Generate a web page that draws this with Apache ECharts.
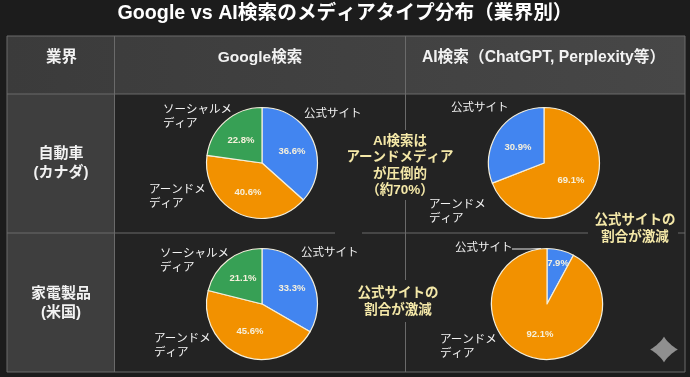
<!DOCTYPE html>
<html>
<head>
<meta charset="utf-8">
<style>html,body{margin:0;padding:0;background:#1c1c1c}#chart{width:690px;height:377px}</style>
<script src="https://cdn.jsdelivr.net/npm/echarts@6/dist/echarts.min.js"></script>
</head>
<body>
<div id="chart"></div>
<script>
// データ
var googleAutoNames = ['公式サイト', 'アーンドメ\nディア', 'ソーシャルメ\nディア'];
var googleAutoValues = [36.6, 40.6, 22.8];
var aiAutoNames = ['アーンドメ\nディア', '公式サイト'];
var aiAutoValues = [69.1, 30.9];
var googleHomeNames = ['公式サイト', 'アーンドメ\nディア', 'ソーシャルメ\nディア'];
var googleHomeValues = [33.3, 45.6, 21.1];
var aiHomeNames = ['公式サイト', 'アーンドメ\nディア'];
var aiHomeValues = [7.9, 92.1];
var headers = ['業界', 'Google検索', 'AI検索（ChatGPT, Perplexity等）'];
var rowLabels = ['自動車\n(カナダ)', '家電製品\n(米国)'];

var FONT = '"Liberation Sans","Noto Sans CJK JP",sans-serif';
var BLUE = '#4285f0', ORANGE = '#f29100', GREEN = '#37a055';
var sliceColors = {'公式サイト': BLUE, 'アーンドメ\nディア': ORANGE, 'ソーシャルメ\nディア': GREEN};

function toData(names, values){
    var arr = [];
    for (var i = 0; i < names.length; i++) {
        arr.push({name: names[i], value: values[i], itemStyle: {color: sliceColors[names[i]]}});
    }
    return arr;
}

// 円グラフの配置と名前ラベルの位置
var pies = [
    {names: googleAutoNames, values: googleAutoValues, center: [262, 163],
     pos: [[304, 114], [149, 197], [163, 117]], pct: [[292, 151], [248, 192], [241, 140]]},
    {names: aiAutoNames, values: aiAutoValues, center: [544, 163],
     pos: [[429, 212], [451, 108]], pct: [[571, 180], [518, 147]]},
    {names: googleHomeNames, values: googleHomeValues, center: [262, 304],
     pos: [[301, 253], [154, 346], [160, 261]], pct: [[292, 288], [250, 331], [243, 278]]},
    {names: aiHomeNames, values: aiHomeValues, center: [547, 304],
     pos: [[455, 248], [440, 347]], pct: [[558, 263], [540, 334]]}
];

var series = [];
pies.forEach(function(p){
    // スライスと％ラベル
    series.push({
        type: 'pie', radius: 55.5, center: p.center, startAngle: 90, silent: true,
        animation: false,
        data: toData(p.names, p.values),
        itemStyle: {borderColor: '#f4efdc', borderWidth: 1.2},
        label: {show: true, position: 'inside', formatter: '{c}%', color: '#f6f0dc',
                fontFamily: FONT, fontSize: 9.5, fontWeight: 'bold'},
        labelLine: {show: false},
        labelLayout: function(params){
            var q = p.pct[params.dataIndex];
            return {x: q[0], y: q[1], align: 'center', verticalAlign: 'middle'};
        }
    });
    // 名前ラベル
    series.push({
        type: 'pie', radius: 55.5, center: p.center, startAngle: 90, silent: true,
        animation: false,
        data: toData(p.names, p.values).map(function(d){
            d.itemStyle = {color: 'rgba(0,0,0,0)', borderWidth: 0};
            return d;
        }),
        label: {show: true, position: 'outside', color: '#f2f2f2', fontFamily: FONT,
                fontSize: 11.5, lineHeight: 14, formatter: '{b}', overflow: 'none', bleedMargin: 0, width: 90},
        labelLine: {show: false},
        labelLayout: function(params){
            var q = p.pos[params.dataIndex];
            return {x: q[0], y: q[1], align: 'left', verticalAlign: 'middle'};
        }
    });
});

var lineColor = '#6a6a6a';
var headGrad = {type: 'linear', x: 0, y: 0, x2: 1, y2: 0, colorStops: [{offset: 0, color: '#3b3b3b'}, {offset: 1, color: '#474747'}]};

function rect(x, y, w, h, fill){
    return {type: 'rect', z: -2, shape: {x: x, y: y, width: w, height: h}, style: {fill: fill}, silent: true};
}
function seg(x1, y1, x2, y2){
    return {type: 'line', z: -1, shape: {x1: x1, y1: y1, x2: x2, y2: y2}, style: {stroke: lineColor, lineWidth: 1}, silent: true};
}
function txt(x, y, s, size, color, lh){
    return {type: 'text', z: 5, x: x, y: y, silent: true,
        style: {text: s, fill: color, font: 'bold ' + size + 'px ' + FONT, align: 'center', verticalAlign: 'middle', lineHeight: lh || size + 3}};
}
function note(x, y, s){
    return txt(x, y, s, 13.5, '#f4e8a8', 16.5);
}

// 右下のきらめきマーク
var sparkle = [];
for (var a = 0; a < 64; a++) {
    var t = a / 64 * Math.PI * 2, c = Math.cos(t), s = Math.sin(t);
    sparkle.push([664 + 14 * (c < 0 ? -1 : 1) * Math.pow(Math.abs(c), 2.4), 349.5 + 13 * (s < 0 ? -1 : 1) * Math.pow(Math.abs(s), 2.4)]);
}

var graphics = [
    rect(7, 36, 678, 336, '#232323'),
    rect(7, 36, 678, 58, headGrad),
    rect(7, 94, 107, 278, '#3e3e3e'),
    seg(7, 36, 685, 36), seg(7, 94, 685, 94), seg(7, 372, 685, 372),
    // 注釈の裏は罫線が切れている
    seg(7, 233, 335, 233), seg(362, 233, 588, 233), seg(678, 233, 685, 233),
    seg(7, 36, 7, 372), seg(685, 36, 685, 372), seg(114.5, 36, 114.5, 372),
    seg(405.5, 36, 405.5, 130), seg(405.5, 200, 405.5, 280), seg(405.5, 322, 405.5, 372),
    txt(345, 14, 'Google vs AI検索のメディアタイプ分布（業界別）', 19.7, '#ffffff'),
    txt(61.5, 58, headers[0], 15.5, '#f2f2f2'),
    txt(260, 58, headers[1], 15.5, '#f2f2f2'),
    txt(543.5, 58, headers[2], 15.7, '#f2f2f2'),
    txt(61, 163, rowLabels[0], 15, '#f2f2f2', 19),
    txt(61, 303, rowLabels[1], 15, '#f2f2f2', 19),
    note(400, 166, 'AI検索は\nアーンドメディア\nが圧倒的\n（約70%）'),
    note(635, 229, '公式サイトの\n割合が激減'),
    note(398, 302, '公式サイトの\n割合が激減'),
    // 公式サイトの引き出し線
    {type: 'polyline', z: 4, shape: {points: [[512, 249], [530, 249], [541, 248.5]]}, style: {stroke: '#e8e8e8', fill: 'none', lineWidth: 1}, silent: true},
    {type: 'polygon', z: 5, silent: true, shape: {points: sparkle}, style: {fill: '#8f8f8f'}}
];

var chart = echarts.init(document.getElementById('chart'), null, {renderer: 'canvas'});
chart.setOption({
    backgroundColor: '#1c1c1c',
    animation: false,
    graphic: {elements: graphics},
    series: series
});
window.onresize = function(){ chart.resize(); };
</script>
</body>
</html>
